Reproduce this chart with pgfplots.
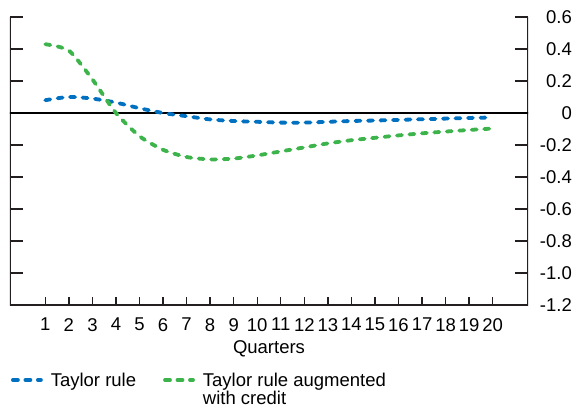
\documentclass[border=0pt]{standalone}
\usepackage{pgfplots}
\pgfplotsset{compat=1.18}
\usepackage{fontspec}
\setmainfont{Liberation Sans}
\definecolor{tblue}{RGB}{0,112,192}
\definecolor{tgreen}{RGB}{60,180,75}
\definecolor{axgray}{RGB}{35,31,32}
\begin{document}
\fontsize{18.5}{20}\selectfont
\begin{tikzpicture}
\path[use as bounding box] (-10pt,-105pt) rectangle (564pt,305pt);
% axis for x ticks and label
\begin{axis}[
  scale only axis, width=518pt, height=288pt,
  xmin=-0.5, xmax=21.5, ymin=-1.2, ymax=0.6,
  xtick={1,...,20}, ytick=\empty,
  xtick pos=left, tick align=inside,
  major tick length=7.5pt,
  tick style={line width=1.3pt, axgray},
  axis line style={draw=none},
  /pgf/number format/assume math mode=true,
  xticklabel style={inner sep=0pt, yshift=-13pt, font=\fontsize{18.5}{20}\selectfont},
  xlabel={Quarters},
  xlabel style={at={(axis description cs:0.5,0)}, anchor=center, yshift=-44pt, font=\fontsize{18.5}{20}\selectfont},
]
\end{axis}
\begin{axis}[
  scale only axis, width=518pt, height=288pt,
  xmin=-0.5, xmax=21.5, ymin=-1.2, ymax=0.6,
  xtick=\empty,
  ytick={-1.2,-1.0,-0.8,-0.6,-0.4,-0.2,0,0.2,0.4,0.6},
  yticklabels={-1.2,-1.0,-0.8,-0.6,-0.4,-0.2,0,0.2,0.4,0.6},
  ytick pos=both, yticklabel pos=right, tick align=inside,
  major tick length=13pt,
  tick style={line width=1.3pt, axgray},
  axis line style={draw=none},
  yticklabel style={anchor=east, inner sep=0pt, xshift=44pt, font=\fontsize{18.5}{20}\selectfont},
  legend columns=2,
  legend style={at={(axis description cs:0,0)}, anchor=north west, xshift=1pt, yshift=-65pt,
    draw=none, fill=none, inner sep=0pt, outer sep=0pt,
    font=\fontsize{18.5}{20}\selectfont,
    cells={anchor=base west, inner sep=0pt},
    /tikz/every odd column/.append style={column sep=6pt},
    /tikz/every even column/.append style={column sep=25pt}},
  legend image code/.code={\draw[#1] (0pt,6pt) -- (28pt,6pt);},
  every axis plot/.append style={line width=3.8pt, line cap=round, dash pattern=on 5pt off 7.5pt},
]
\draw[line width=1.3pt, axgray] (rel axis cs:0,1) -- (rel axis cs:0,0) -- (rel axis cs:1,0) -- (rel axis cs:1,1);
\addplot[black, line width=1.7pt, solid, forget plot] coordinates {(-0.5,0) (21.5,0)};
\addplot[tblue, smooth] coordinates {
(1,0.08) (2,0.10) (3,0.09) (4,0.065) (5,0.03) (6,0.0) (7,-0.02) (8,-0.04) (9,-0.05) (10,-0.055)
(11,-0.06) (12,-0.06) (13,-0.055) (14,-0.05) (15,-0.047) (16,-0.043) (17,-0.039) (18,-0.035) (19,-0.031) (20,-0.028)};
\addlegendentry{Taylor rule}
\addplot[tgreen, smooth, tension=0.4] coordinates {
(1,0.43) (2,0.39) (3,0.21) (4,0.0) (5,-0.145) (6,-0.23) (7,-0.275) (8,-0.29) (9,-0.285) (10,-0.265)
(11,-0.24) (12,-0.215) (13,-0.19) (14,-0.17) (15,-0.155) (16,-0.14) (17,-0.127) (18,-0.116) (19,-0.106) (20,-0.097)};
\addlegendentry{\begin{tabular}[t]{@{}l@{}}Taylor rule augmented\\[-1pt]with credit\end{tabular}}
\end{axis}
\end{tikzpicture}
\end{document}
